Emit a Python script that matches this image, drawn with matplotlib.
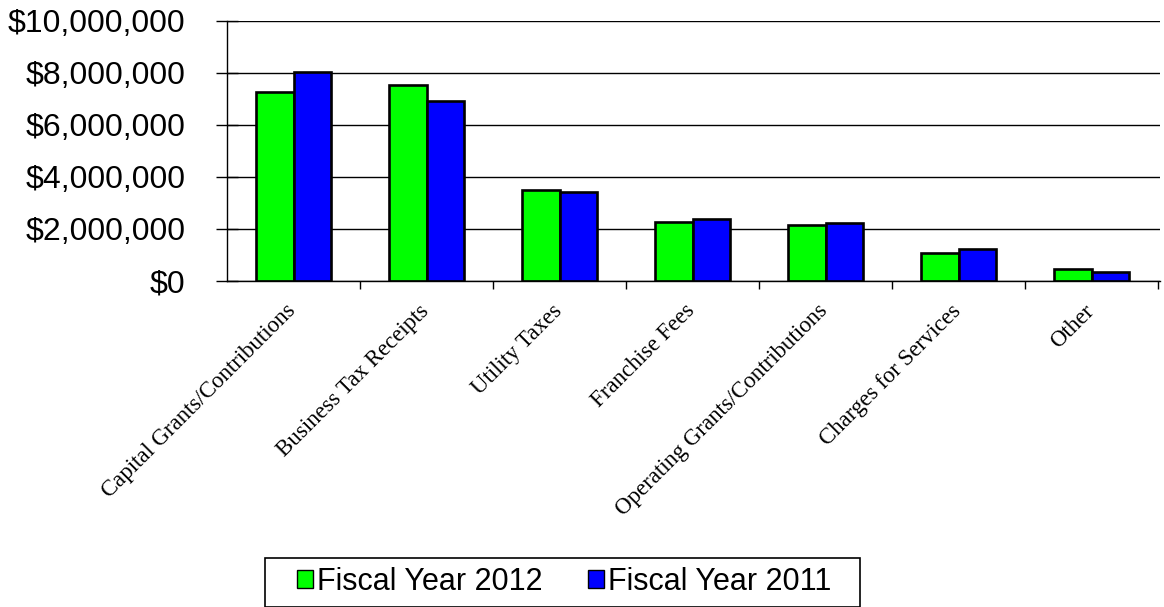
#!/usr/bin/env python3

import numpy as np
import matplotlib
matplotlib.use("Agg")
import matplotlib.pyplot as plt
import matplotlib.transforms as mtransforms
from matplotlib.patches import Rectangle
from matplotlib.ticker import FuncFormatter

categories = [
    "Capital Grants/Contributions",
    "Business Tax Receipts",
    "Utility Taxes",
    "Franchise Fees",
    "Operating Grants/Contributions",
    "Charges for Services",
    "Other",
]
fy2012 = [7250000, 7520000, 3500000, 2250000, 2160000, 1080000, 450000]
fy2011 = [8030000, 6930000, 3410000, 2370000, 2230000, 1230000, 350000]
series_names = ["Fiscal Year 2012", "Fiscal Year 2011"]
yticks = [0, 2000000, 4000000, 6000000, 8000000, 10000000]

W, H = 1164, 607
fig = plt.figure(figsize=(W / 100, H / 100), dpi=100)
ax = fig.add_axes([227 / W, 1 - 281 / H, (1160 - 227) / W, (281 - 20.7) / H])

x = np.arange(len(categories))
bw = 0.285
ax.bar(x - bw / 2, fy2012, bw, color="#00ff00", edgecolor="black", linewidth=1.9,
       label=series_names[0], zorder=3)
ax.bar(x + bw / 2, fy2011, bw, color="#0000ff", edgecolor="black", linewidth=1.9,
       label=series_names[1], zorder=3)

ax.set_xlim(-0.5, len(categories) - 0.5 + 0.015)
ax.set_ylim(0, 10000000)
ax.set_yticks(yticks)
ax.yaxis.set_major_formatter(FuncFormatter(lambda v, p: f"${v:,.0f}"))
ax.grid(axis="y", color="black", linewidth=1.0, zorder=0)

for s in ["top", "right"]:
    ax.spines[s].set_visible(False)
for s in ["left", "bottom"]:
    ax.spines[s].set_linewidth(1.0)
    ax.spines[s].set_zorder(4)

ax.tick_params(axis="y", direction="inout", length=16, width=1.0, pad=22,
               labelsize=23)
for lab in ax.get_yticklabels():
    lab.set_fontfamily("Liberation Sans")

# category ticks sit between groups
ax.set_xticks(np.arange(len(categories)) + 0.5, minor=False)
ax.set_xticklabels([])
ax.tick_params(axis="x", which="major", direction="out", length=6, width=1.0)
ax.set_xticks(x, minor=True)
ax.set_xticklabels(categories, minor=True, rotation=45, ha="right",
                   rotation_mode="anchor", fontsize=16.5, family="Liberation Serif")
ax.tick_params(axis="x", which="minor", length=0, pad=14)
shift = mtransforms.ScaledTranslation(-0.08, 0, fig.dpi_scale_trans)
for lab in ax.get_xticklabels(minor=True):
    lab.set_transform(lab.get_transform() + shift)

# legend box drawn by hand so it can be wider than its contents
fig.patches.append(Rectangle((265 / W, 0), 595 / W, 1 - 558 / H,
                             transform=fig.transFigure, facecolor="white",
                             edgecolor="black", linewidth=1.2, zorder=1))
leg = fig.legend(loc="center", bbox_to_anchor=(564.5 / W, 1 - 582 / H),
                 ncol=2, frameon=False,
                 prop={"family": "Liberation Sans", "size": 22},
                 handlelength=0.5, handleheight=0.5, handletextpad=0.15,
                 columnspacing=1.5, borderpad=0, borderaxespad=0)
leg.set_zorder(2)
for h in leg.legend_handles:
    h.set_linewidth(1.0)

fig.savefig("out.png", dpi=100)
